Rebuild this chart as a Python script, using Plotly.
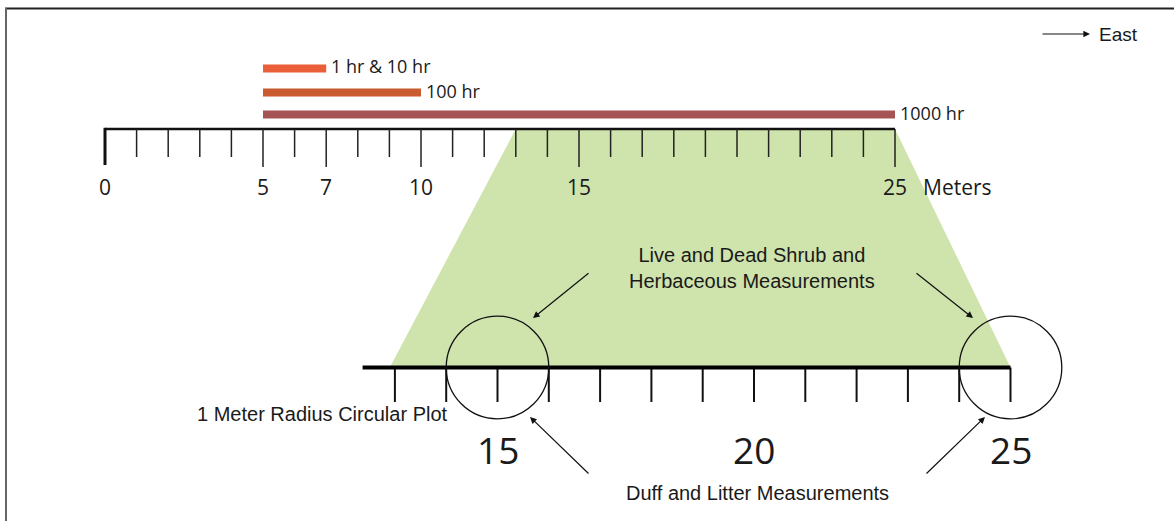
import plotly.graph_objects as go

W, H = 1174, 521

# ---------------- data ----------------
top_ticks = list(range(0, 26))                 # top ruler, every metre
top_major = [0, 5, 7, 10, 15, 25]              # labelled metres
top_labels = ["0", "5", "7", "10", "15", "25"]
fuel_names = ["1 hr & 10 hr", "100 hr", "1000 hr"]
fuel_start = [5, 5, 5]
fuel_end = [7, 10, 25]
shrub_top = [13, 25]                           # shrub/herb zone on top ruler (m)
shrub_bottom = [12.9, 25]                      # same zone on enlarged ruler (m)
bottom_ticks = list(range(13, 26))
bottom_major = [15, 20, 25]
bottom_labels = ["15", "20", "25"]
bottom_line = [12.37, 25]
plot_centers = [15, 25]
plot_radius = 1

# ---------------- layout constants ----------------
TOP_X0, TOP_PPM = 105.0, 31.6       # pixel of 0 m, pixels per metre (top ruler)
BOT_X15, BOT_PPM = 497.5, 51.3      # pixel of 15 m, pixels per metre (bottom ruler)
Y_TOP, Y_BOT = 129, 367.5
fuel_y = [68.5, 92.5, 114.5]
fuel_colors = ["#EA5F37", "#C95B2E", "#A45553"]
GREEN = "#CFE3AC"
TXT = "#1a1a1a"


def bottom_to_top(m):
    return (BOT_X15 + (m - 15) * BOT_PPM - TOP_X0) / TOP_PPM


def px(x):
    return x / W


fig = go.Figure()

# shrub / herbaceous zone (drawn on the top-ruler axis)
fig.add_trace(go.Scatter(
    x=[shrub_top[0], shrub_top[1], bottom_to_top(shrub_bottom[1]), bottom_to_top(shrub_bottom[0]), shrub_top[0]],
    y=[Y_TOP, Y_TOP, Y_BOT, Y_BOT, Y_TOP],
    mode="lines", fill="toself", fillcolor=GREEN,
    line=dict(width=0, color=GREEN), showlegend=False, hoverinfo="skip"))

# fuel transects
for name, s, e, y, c in zip(fuel_names, fuel_start, fuel_end, fuel_y, fuel_colors):
    fig.add_trace(go.Scatter(x=[s, e], y=[y, y], mode="lines", line=dict(color=c, width=8),
                             showlegend=False, hoverinfo="skip"))

# top ruler
fig.add_trace(go.Scatter(x=[top_ticks[0], top_ticks[-1]], y=[Y_TOP, Y_TOP], mode="lines",
                         line=dict(color="#111", width=2.6), showlegend=False, hoverinfo="skip"))
tx, ty = [], []
for t in top_ticks:
    if t == 0:
        continue
    tx += [t, t, None]
    ty += [Y_TOP, 167 if t in top_major else 157, None]
fig.add_trace(go.Scatter(x=tx, y=ty, mode="lines", line=dict(color="#222", width=1.5),
                         showlegend=False, hoverinfo="skip"))
fig.add_trace(go.Scatter(x=[0, 0], y=[Y_TOP - 1.2, 165], mode="lines", line=dict(color="#111", width=3),
                         showlegend=False, hoverinfo="skip"))

# bottom (enlarged) ruler
bx, by = [], []
for t in bottom_ticks:
    bx += [t, t, None]
    by += [Y_BOT, 402, None]
fig.add_trace(go.Scatter(x=bx, y=by, xaxis="x2", mode="lines", line=dict(color="#111", width=2),
                         showlegend=False, hoverinfo="skip"))
fig.add_trace(go.Scatter(x=bottom_line, y=[Y_BOT, Y_BOT], xaxis="x2", mode="lines",
                         line=dict(color="#000", width=4), showlegend=False, hoverinfo="skip"))

annotations = []
# top ruler labels
for v, lab in zip(top_major, top_labels):
    annotations.append(dict(x=v, y=187, xref="x", yref="y", text=lab, showarrow=False,
                            font=dict(family="Open Sans", size=21, color=TXT)))
annotations.append(dict(x=px(921), y=187, xref="paper", yref="y", text="Meters", showarrow=False,
                        xanchor="left", font=dict(family="Open Sans", size=21, color=TXT)))
# fuel labels
for name, e, y in zip(fuel_names, fuel_end, [66, 91, 113]):
    annotations.append(dict(x=e, y=y, xref="x", yref="y", text=name, showarrow=False, xanchor="left",
                            xshift=3, font=dict(family="Open Sans", size=18, color=TXT)))
# bottom labels
for v, lab in zip(bottom_major, bottom_labels):
    annotations.append(dict(x=v, y=449, xref="x2", yref="y", text=lab, showarrow=False,
                            font=dict(family="Open Sans", size=37, color=TXT)))

AR = dict(family="Liberation Sans, Arial", size=20, color=TXT)
annotations += [
    dict(x=px(752), y=268, xref="paper", yref="y", showarrow=False, align="center",
         text="Live and Dead Shrub and<br>Herbaceous Measurements", font=AR),
    dict(x=px(757), y=493, xref="paper", yref="y", showarrow=False,
         text="Duff and Litter Measurements", font=AR),
    dict(x=px(450), y=414, xref="paper", yref="y", showarrow=False, xanchor="right",
         text="1 Meter Radius Circular Plot", font=AR),
    dict(x=px(1097), y=34, xref="paper", yref="y", showarrow=False, xanchor="left",
         text="East", font=dict(family="Liberation Sans, Arial", size=19, color=TXT)),
]
# arrows (head position, tail offset in pixels)
arrows = [((533, 318), (57, -46)), ((973, 318), (-58, -46)),
          ((530, 417), (60, 58)), ((985, 417), (-60, 58)),
          ((1090, 34), (-49, 0))]
for (hx, hy), (ax, ay) in arrows:
    annotations.append(dict(x=px(hx), y=hy, xref="paper", yref="y", ax=ax, ay=ay, text="",
                            showarrow=True, arrowhead=2, arrowsize=1.1, arrowwidth=1.2,
                            arrowcolor="#111"))

shapes = []
for c in plot_centers:
    shapes.append(dict(type="circle", xref="x2", yref="y", x0=c - plot_radius, x1=c + plot_radius,
                       y0=Y_BOT - plot_radius * BOT_PPM, y1=Y_BOT + plot_radius * BOT_PPM,
                       line=dict(color="#111", width=1.3), layer="above"))
# frame lines
shapes.append(dict(type="line", xref="paper", yref="y", x0=px(5), x1=1, y0=8.5, y1=8.5,
                   line=dict(color="#222", width=2)))
shapes.append(dict(type="line", xref="paper", yref="y", x0=px(6), x1=px(6), y0=8, y1=H,
                   line=dict(color="#666", width=2)))

fig.update_layout(
    width=W, height=H, margin=dict(l=0, r=0, t=0, b=0),
    paper_bgcolor="white", plot_bgcolor="white",
    xaxis=dict(range=[(0 - TOP_X0) / TOP_PPM, (W - TOP_X0) / TOP_PPM], visible=False, fixedrange=True),
    xaxis2=dict(range=[15 - BOT_X15 / BOT_PPM, 15 + (W - BOT_X15) / BOT_PPM], visible=False,
                overlaying="x", fixedrange=True),
    yaxis=dict(range=[H, 0], visible=False, fixedrange=True),
    annotations=annotations, shapes=shapes, showlegend=False, hovermode=False,
)

fig.write_html("out.html", config={"displayModeBar": False},
               post_script="document.body.style.margin='0';document.body.style.overflow='hidden';")
